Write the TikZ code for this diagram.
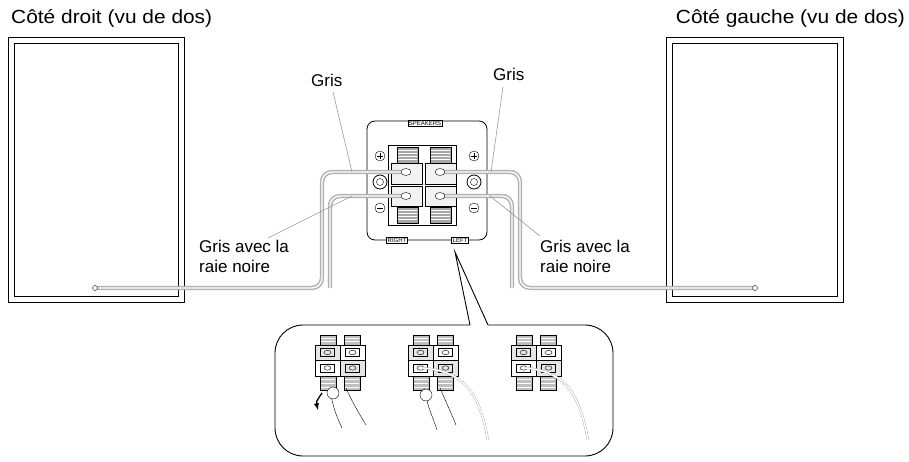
\documentclass[tikz,border=0pt]{standalone}
\usepackage{fontspec}
\setmainfont{Liberation Sans}
\begin{document}
\begin{tikzpicture}[x=1pt,y=-1pt,
  lbl/.style={font=\fontsize{17}{20}\selectfont,inner sep=0,anchor=west,align=left},
  ttl/.style={font=\fontsize{19}{22}\selectfont,inner sep=0,xscale=1.1,transform shape},
  wire/.style={draw=gray!60,double=white,double distance=1.4pt,line width=1.5pt,rounded corners=10pt},
  leader/.style={draw=gray!80,line width=0.6pt},
  tiny/.style={draw,fill=white,font=\fontsize{6}{6}\selectfont,inner sep=1pt}]
\useasboundingbox (0,0) rectangle (909,462);
% speakers
\draw[line width=0.9pt] (8,37) rectangle (184,302);
\draw[line width=0.6pt] (14,43) rectangle (178,296);
\draw[line width=0.9pt] (666,37) rectangle (843,302);
\draw[line width=0.6pt] (672,43) rectangle (837,296);
\node[ttl,anchor=west] (tl) at (11,18) {Côté droit (vu de dos)};
\node[ttl,anchor=east] (tr) at (905,18) {Côté gauche (vu de dos)};
% panel
\draw[line width=0.8pt,rounded corners=8pt] (367,121) rectangle (487,240);
\node[tiny] (spk) at (425,123) {SPEAKERS};
\node[tiny] (rgt) at (397,240) {RIGHT};
\node[tiny] (lft) at (460,240) {LEFT};
\draw[line width=0.6pt] (388,145) rectangle (456,225);
\foreach \x in {397,430}{
  \draw[fill=gray!70] (\x,147) rectangle ++(21,16);
  \draw[fill=gray!70] (\x,207) rectangle ++(21,16);
  \foreach \yy in {150,153,156,159,210,213,216,219} \draw[white,line width=0.5pt] (\x+1,\yy)--(\x+20,\yy);
}
\foreach \x in {391,425}{
  \draw[line width=1pt,fill=gray!10] (\x,164) rectangle ++(31,21);
  \draw[line width=1pt,fill=gray!10] (\x,187) rectangle ++(31,20);
}
\foreach \x in {380,474}{
  \draw (\x,156) circle (5); \draw (\x-3,156)--(\x+3,156) (\x,153)--(\x,159);
  \draw[line width=0.8pt] (\x,182) circle (7); \draw (\x,182) circle (3.5);
  \draw (\x,208) circle (5); \draw (\x-3,208)--(\x+3,208);
}
% points
\coordinate (ls) at (95,288); \coordinate (rs) at (755,288);
\coordinate (t1) at (406,172); \coordinate (t2) at (406,196);
\coordinate (t3) at (440,172); \coordinate (t4) at (440,196);
\draw[wire] (t1) -- (322,172) -- (322,288) -- (ls);
\draw[wire] (t2) -- (330,196) -- (330,288);
\draw[wire] (t3) -- (520,172) -- (520,288) -- (rs);
\draw[wire] (t4) -- (512,196) -- (512,288);
\draw[fill=white] (ls) circle (2.5); \draw[fill=white] (rs) circle (2.5);
\foreach \p in {t1,t2,t3,t4} \draw[fill=white] (\p) ellipse (5 and 3.5);
% labels
\node[lbl] (g1) at (311,80) {Gris};
\node[lbl] (g2) at (493,74) {Gris};
\draw[leader] (333,92) -- (352,172);
\draw[leader] (503,87) -- (491,172);
\node[lbl] (ga1) at (199,256) {Gris avec la\\raie noire};
\node[lbl] (ga2) at (540,256) {Gris avec la\\raie noire};
\draw[leader] (268,238) -- (352,196);
\draw[leader] (540,236) -- (490,196);
% callout
\coordinate (tip) at (455,252);
\draw[line width=0.9pt,rounded corners=28pt] (470,325) -- (275,325) -- (275,456) -- (613,456) -- (613,325) -- (488,325);
\draw[line width=0.9pt] (470,325) -- (tip) -- (488,325);
% mini terminals
\foreach \cx in {340,433,536}{
  \foreach \dx in {-20,4}{
    \draw[fill=gray!50] (\cx+\dx,335) rectangle ++(16,10);
    \draw[fill=gray!50] (\cx+\dx,376) rectangle ++(16,14);
    \foreach \yy in {338,341,379,383,387} \draw[white,line width=0.4pt] (\cx+\dx+1,\yy) -- ++(14,0);
  }
  \draw[fill=gray!20] (\cx-25,345) rectangle ++(25,15);
  \draw[line width=0.9pt,fill=white] (\cx,345) rectangle ++(25,15);
  \draw[line width=0.9pt,fill=white] (\cx-25,360) rectangle ++(25,16);
  \draw[fill=gray!20] (\cx,360) rectangle ++(25,16);
  \foreach \ex/\ey in {-12.5/352.5,12.5/352.5,-12.5/368,12.5/368}{
    \draw (\cx+\ex-7,\ey-4) rectangle ++(14,8);
    \draw (\cx+\ex,\ey) ellipse (3.5 and 2.2);}
}
% hands / wires
\draw (330,388) .. controls (332,405) and (336,415) .. (342,428);
\draw (346,388) .. controls (352,402) and (360,415) .. (366,425);
\draw[fill=white] (333,393) circle (6);
\draw[-latex,line width=1.3pt] (322,393) .. controls (316,402) .. (318,410);
\draw (424,388) .. controls (427,405) and (432,415) .. (437,430);
\draw (440,388) .. controls (446,402) and (452,415) .. (456,425);
\draw[fill=white] (426,395) circle (6);
\draw[gray!70,double=white,double distance=1.5pt] (423,368) .. controls (470,372) and (480,400) .. (488,440);
\draw[gray!70,double=white,double distance=1.5pt] (526,368) .. controls (570,372) and (580,400) .. (588,440);
\end{tikzpicture}
\end{document}
